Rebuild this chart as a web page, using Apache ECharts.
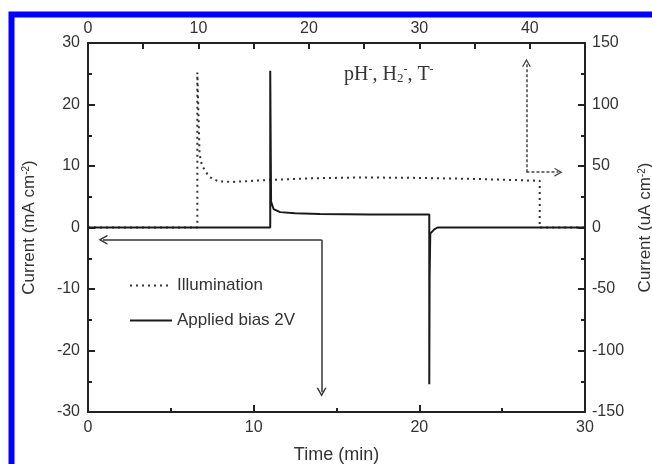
<!DOCTYPE html>
<html>
<head>
<meta charset="utf-8">
<script src="https://cdn.jsdelivr.net/npm/echarts@6/dist/echarts.min.js"></script>
<style>
  html, body { margin: 0; padding: 0; background: #fff; }
  #main { width: 652px; height: 464px; }
</style>
</head>
<body>
<div id="main"></div>
<script>
// 偏压下的电流 (底轴 min, 左轴 mA cm-2)
var biasTime    = [0, 11.0, 11.0, 11.05, 11.2, 11.6, 12.5, 14, 17, 20.6, 20.6, 20.62, 20.66, 20.9, 21.1, 30];
var biasCurrent = [0, 0, 25.5, 4.2, 3.0, 2.5, 2.3, 2.2, 2.1, 2.1, -25.5, -8, -1.0, -0.3, 0, 0];

// 光照电流 (顶轴 min, 右轴 uA cm-2)
var illumTime    = [0, 9.9, 9.9, 10.1, 10.3, 10.6, 11.0, 11.8, 13, 16, 20, 25, 30, 35, 40.9, 40.9, 45];
var illumCurrent = [0, 0, 126, 60, 51, 46, 41, 37.5, 37, 38.5, 40, 40.7, 40.3, 39.5, 38, 0, 0];

// 箭头 (各自坐标系里的端点)
var biasArrowLeft  = [[14.1, -2], [0.9, -2]];
var biasArrowDown  = [[14.1, -2], [14.1, -26.8]];
var illumArrowUp   = [[39.7, 45], [39.7, 134]];
var illumArrowRight = [[39.7, 45], [42.6, 45]];

var legendNames = ['Illumination', 'Applied bias 2V'];

function pairs(xs, ys) {
    var out = [];
    for (var i = 0; i < xs.length; i++) out.push([xs[i], ys[i]]);
    return out;
}
function arrowData(list) {
    return list.map(function (seg) {
        return [{ coord: seg[0] }, { coord: seg[1] }];
    });
}

var chevron = 'path://M0,10 L5,0 L10,10 L8.4,10 L5,3.2 L1.6,10 Z';
var textColor = '#333';
var lineColor = '#222';

var myChart = echarts.init(document.getElementById('main'));

var baseAxis = {
    type: 'value',
    splitLine: { show: false },
    axisLine: { show: true, onZero: false, lineStyle: { color: lineColor, width: 2 } },
    axisTick: { show: true, inside: true, length: 7, lineStyle: { color: lineColor, width: 2 } },
    minorTick: { show: true, splitNumber: 2, length: 4, lineStyle: { color: lineColor, width: 2 } },
    axisLabel: { color: textColor, fontSize: 16, fontFamily: 'Liberation Sans, Arial, sans-serif' },
    nameTextStyle: {
        color: textColor, fontSize: 17, fontFamily: 'Liberation Sans, Arial, sans-serif',
        rich: { sup: { fontSize: 10, verticalAlign: 'top', color: textColor, fontFamily: 'Liberation Sans, Arial, sans-serif' } }
    }
};
function axis(extra) {
    return echarts.util.merge(echarts.util.clone(baseAxis), extra, true);
}

option = {
    backgroundColor: '#fff',
    animation: false,
    grid: { left: 88, right: 67, top: 43, bottom: 52, containLabel: false, outerBoundsMode: 'none' },
    xAxis: [
        axis({
            position: 'bottom', min: 0, max: 30, interval: 10,
            axisLabel: { margin: 8 },
            name: 'Time (min)', nameLocation: 'middle', nameGap: 34,
            nameTextStyle: { fontSize: 18 }
        }),
        axis({
            position: 'top', min: 0, max: 45, interval: 5,
            axisTick: { length: 6 },
            minorTick: { show: false },
            axisLabel: {
                margin: 6,
                formatter: function (v) { return (v % 10 === 0 && v < 45) ? String(v) : ''; }
            }
        })
    ],
    yAxis: [
        axis({
            position: 'left', min: -30, max: 30, interval: 10,
            axisLabel: { margin: 8 },
            name: 'Current (mA cm{sup|-2})', nameLocation: 'middle', nameGap: 50, nameRotate: 90
        }),
        axis({
            position: 'right', min: -150, max: 150, interval: 50,
            axisLabel: { margin: 7 },
            name: 'Current (uA cm{sup|-2})', nameLocation: 'middle', nameGap: 52, nameRotate: 90
        })
    ],
    legend: {
        data: legendNames,
        orient: 'vertical',
        left: 124, top: 272,
        itemWidth: 42, itemHeight: 12, itemGap: 18,
        itemStyle: { opacity: 0 },
        textStyle: { color: textColor, fontSize: 17, fontFamily: 'Liberation Sans, Arial, sans-serif' }
    },
    graphic: [
        {
            type: 'rect', silent: true, z: 100,
            shape: { x: 11.5, y: 14.5, width: 800, height: 600 },
            style: { fill: 'none', stroke: '#0000ff', lineWidth: 6 }
        },
        {
            type: 'text', left: 344, top: 64, z: 100,
            style: {
                text: 'pH{sup|-}, H{sub|2}{sup|-}, T{sup|-}',
                fill: textColor,
                fontSize: 20,
                fontFamily: 'Liberation Serif, Times New Roman, serif',
                rich: {
                    sup: { fontSize: 12, verticalAlign: 'top', fill: textColor, fontFamily: 'Liberation Serif, serif' },
                    sub: { fontSize: 13, verticalAlign: 'bottom', padding: [8, 0, 0, 0], fill: textColor, fontFamily: 'Liberation Serif, serif' }
                }
            }
        }
    ],
    series: [
        {
            name: 'Illumination',
            type: 'line',
            xAxisIndex: 1, yAxisIndex: 1,
            data: pairs(illumTime, illumCurrent),
            symbol: 'none',
            lineStyle: { color: '#333', width: 2, type: [2, 4] },
            itemStyle: { color: '#333' },
            markLine: {
                silent: true, animation: false,
                symbol: ['none', chevron], symbolSize: [9, 8],
                label: { show: false },
                lineStyle: { color: '#444', width: 1.5, type: [3, 2] },
                data: arrowData([illumArrowUp, illumArrowRight])
            }
        },
        {
            name: 'Applied bias 2V',
            type: 'line',
            xAxisIndex: 0, yAxisIndex: 0,
            data: pairs(biasTime, biasCurrent),
            symbol: 'none',
            lineStyle: { color: '#1a1a1a', width: 2 },
            itemStyle: { color: '#1a1a1a' },
            markLine: {
                silent: true, animation: false,
                symbol: ['none', chevron], symbolSize: [10, 9],
                label: { show: false },
                lineStyle: { color: '#333', width: 1.5, type: 'solid' },
                data: arrowData([biasArrowLeft, biasArrowDown])
            }
        }
    ]
};

myChart.setOption(option);
</script>
</body>
</html>
